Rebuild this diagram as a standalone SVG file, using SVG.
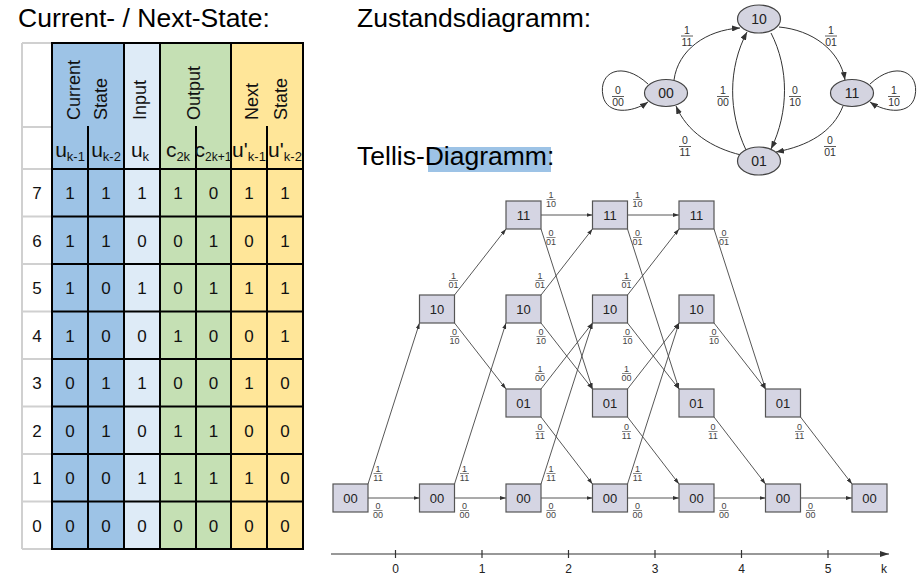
<svg xmlns="http://www.w3.org/2000/svg" width="917" height="578" viewBox="0 0 917 578">
<style>
text{font-family:"Liberation Sans",Arial,sans-serif;}
.title{font-size:26.5px;fill:#000}
.hdr{font-size:18px;fill:#111}
.cell{font-size:17px;fill:#111;text-anchor:middle}
.sub{font-size:21px;fill:#111;text-anchor:middle}
.grid{stroke:#000;stroke-width:2;fill:none}
.gray{stroke:#d0d0d0;stroke-width:2;fill:none}
.st{fill:#d4d4e0;stroke:#444;stroke-width:1.2}
.stt{font-size:14px;fill:#222;text-anchor:middle}
.sl{font-size:10.5px;fill:#333;text-anchor:middle}
.fb{stroke:#333;stroke-width:0.8}
.edge{fill:none;stroke:#333;stroke-width:1;marker-end:url(#ah)}
.tb{fill:#d5d5e3;stroke:#555;stroke-width:1.2}
.tt{font-size:13px;fill:#222;text-anchor:middle}
.tl{font-size:9px;fill:#444;text-anchor:middle}
.tfb{stroke:#555;stroke-width:0.7}
.tedge{stroke:#444;stroke-width:0.9;fill:none;marker-end:url(#ta)}
.axis{stroke:#333;stroke-width:1.2;fill:none}
.ax{font-size:12px;fill:#222;text-anchor:middle}
</style>
<defs>
<marker id="ah" markerUnits="userSpaceOnUse" markerWidth="8" markerHeight="6" refX="8" refY="3" orient="auto" viewBox="0 0 8 6"><path d="M0,0L8,3L0,6z" fill="#333"/></marker>
<marker id="ta" markerUnits="userSpaceOnUse" markerWidth="6" markerHeight="4" refX="6" refY="2" orient="auto" viewBox="0 0 6 4"><path d="M0,0L6,2L0,4z" fill="#333"/></marker>
<marker id="axa" markerUnits="userSpaceOnUse" markerWidth="9" markerHeight="6" refX="9" refY="3" orient="auto" viewBox="0 0 9 6"><path d="M0,0L9,3L0,6z" fill="#333"/></marker>
</defs>
<rect width="917" height="578" fill="#fff"/>

<!-- Titles -->
<text class="title" x="18" y="27">Current- / Next-State:</text>
<text class="title" x="357" y="27">Zustandsdiagramm:</text>
<rect x="428" y="147" width="123" height="25" fill="#9dc3e6"/>
<text class="title" x="357" y="165">Tellis-Diagramm:</text>

<!-- Table -->
<g id="table">
<rect x="52" y="43" width="72" height="506" fill="#9dc3e6"/>
<rect x="124" y="43" width="36" height="506" fill="#deebf7"/>
<rect x="160" y="43" width="71" height="506" fill="#c5e0b4"/>
<rect x="231" y="43" width="72" height="506" fill="#ffe699"/>
<path class="gray" d="M22,43V549M22,43H52M22,127H52M22,169H52M22,216.5H52M22,264H52M22,311.5H52M22,359H52M22,406.5H52M22,454H52M22,501.5H52M22,549H52"/>
<path class="grid" d="M52,43V549M124,43V549M160,43V549M231,43V549M303,43V549M88,126V549M196,126V549M267,126V549M51,43H304M51,169H304M51,216.5H304M51,264H304M51,311.5H304M51,359H304M51,406.5H304M51,454H304M51,501.5H304M51,549H304"/>
<text class="hdr" transform="translate(80,120) rotate(-90)">Current</text>
<text class="hdr" transform="translate(107,120) rotate(-90)">State</text>
<text class="hdr" transform="translate(146,120) rotate(-90)">Input</text>
<text class="hdr" transform="translate(200,120) rotate(-90)">Output</text>
<text class="hdr" transform="translate(258,120) rotate(-90)">Next</text>
<text class="hdr" transform="translate(287,120) rotate(-90)">State</text>
<text class="sub" x="70" y="157">u<tspan font-size="13" dy="4">k-1</tspan></text>
<text class="sub" x="106" y="157">u<tspan font-size="13" dy="4">k-2</tspan></text>
<text class="sub" x="140" y="157">u<tspan font-size="13" dy="4">k</tspan></text>
<text class="sub" x="178" y="157">c<tspan font-size="13" dy="4">2k</tspan></text>
<text class="sub" x="213" y="157">c<tspan font-size="12" dy="4">2k+1</tspan></text>
<text class="sub" x="249" y="157">u'<tspan font-size="13" dy="4">k-1</tspan></text>
<text class="sub" x="285" y="157">u'<tspan font-size="13" dy="4">k-2</tspan></text>
<g class="cell">
<text x="37" y="199">7</text><text x="70" y="199">1</text><text x="106" y="199">1</text><text x="142" y="199">1</text><text x="178" y="199">1</text><text x="213.5" y="199">0</text><text x="249" y="199">1</text><text x="285" y="199">1</text>
<text x="37" y="246.5">6</text><text x="70" y="246.5">1</text><text x="106" y="246.5">1</text><text x="142" y="246.5">0</text><text x="178" y="246.5">0</text><text x="213.5" y="246.5">1</text><text x="249" y="246.5">0</text><text x="285" y="246.5">1</text>
<text x="37" y="294">5</text><text x="70" y="294">1</text><text x="106" y="294">0</text><text x="142" y="294">1</text><text x="178" y="294">0</text><text x="213.5" y="294">1</text><text x="249" y="294">1</text><text x="285" y="294">1</text>
<text x="37" y="341.5">4</text><text x="70" y="341.5">1</text><text x="106" y="341.5">0</text><text x="142" y="341.5">0</text><text x="178" y="341.5">1</text><text x="213.5" y="341.5">0</text><text x="249" y="341.5">0</text><text x="285" y="341.5">1</text>
<text x="37" y="389">3</text><text x="70" y="389">0</text><text x="106" y="389">1</text><text x="142" y="389">1</text><text x="178" y="389">0</text><text x="213.5" y="389">0</text><text x="249" y="389">1</text><text x="285" y="389">0</text>
<text x="37" y="436.5">2</text><text x="70" y="436.5">0</text><text x="106" y="436.5">1</text><text x="142" y="436.5">0</text><text x="178" y="436.5">1</text><text x="213.5" y="436.5">1</text><text x="249" y="436.5">0</text><text x="285" y="436.5">0</text>
<text x="37" y="484">1</text><text x="70" y="484">0</text><text x="106" y="484">0</text><text x="142" y="484">1</text><text x="178" y="484">1</text><text x="213.5" y="484">1</text><text x="249" y="484">1</text><text x="285" y="484">0</text>
<text x="37" y="531.5">0</text><text x="70" y="531.5">0</text><text x="106" y="531.5">0</text><text x="142" y="531.5">0</text><text x="178" y="531.5">0</text><text x="213.5" y="531.5">0</text><text x="249" y="531.5">0</text><text x="285" y="531.5">0</text>
</g>
</g>

<!-- State diagram -->
<g id="state-edges">
<path class="edge" d="M674,80C678,50 706,30 740,28"/>
<path class="edge" d="M779,27C812,30 840,50 845,80"/>
<path class="edge" d="M771,33C789,68 789,112 771,149"/>
<path class="edge" d="M746,150C728,112 728,68 747,32"/>
<path class="edge" d="M741,155C712,148 687,132 676,106"/>
<path class="edge" d="M843,106C833,132 808,146 776,152"/>
<path class="edge" d="M648,84C622,60 598,72 603,96C607,115 632,113 648,102"/>
<path class="edge" d="M870,84C896,60 920,72 915,96C911,115 886,113 870,102"/>
<g class="sl">
<text x="687" y="33.5">1</text><path class="fb" d="M681,36H693"/><text x="687" y="45.5">11</text>
<text x="831" y="33.5">1</text><path class="fb" d="M825,36H837"/><text x="831" y="45.5">01</text>
<text x="618" y="94">0</text><path class="fb" d="M612,96.5H624"/><text x="618" y="106">00</text>
<text x="723" y="94">1</text><path class="fb" d="M717,96.5H729"/><text x="723" y="106">00</text>
<text x="795" y="94">0</text><path class="fb" d="M789,96.5H801"/><text x="795" y="106">10</text>
<text x="894" y="94">1</text><path class="fb" d="M888,96.5H900"/><text x="894" y="106">10</text>
<text x="685" y="144">0</text><path class="fb" d="M679,146.5H691"/><text x="685" y="156">11</text>
<text x="830" y="144">0</text><path class="fb" d="M824,146.5H836"/><text x="830" y="156">01</text>
</g>
</g>
<g id="s10"><ellipse class="st" cx="759" cy="19" rx="21.5" ry="14"/><text class="stt" x="759" y="24">10</text></g>
<g id="s00"><ellipse class="st" cx="666" cy="93" rx="21.5" ry="13.5"/><text class="stt" x="666" y="98">00</text></g>
<g id="s11"><ellipse class="st" cx="852" cy="93" rx="21.5" ry="13.5"/><text class="stt" x="852" y="98">11</text></g>
<g id="s01"><ellipse class="st" cx="759" cy="161" rx="21.5" ry="14"/><text class="stt" x="759" y="166">01</text></g>

<!-- Trellis edges -->
<g id="trellis-edges">
<path class="tedge" d="M368,498H419.5"/>
<path class="tedge" d="M368,484L419.5,323"/>
<path class="tedge" d="M454.5,498H506"/>
<path class="tedge" d="M454.5,484L506,323"/>
<path class="tedge" d="M454.5,295L506,229"/>
<path class="tedge" d="M454.5,323L506,389"/>
<path class="tedge" d="M541,498H592.5"/>
<path class="tedge" d="M541,484L592.5,323"/>
<path class="tedge" d="M541,295L592.5,229"/>
<path class="tedge" d="M541,323L592.5,389"/>
<path class="tedge" d="M541,215H592.5"/>
<path class="tedge" d="M541,229L592.5,389"/>
<path class="tedge" d="M541,389L592.5,323"/>
<path class="tedge" d="M541,417L592.5,484"/>
<path class="tedge" d="M627.5,498H679"/>
<path class="tedge" d="M627.5,484L679,323"/>
<path class="tedge" d="M627.5,295L679,229"/>
<path class="tedge" d="M627.5,323L679,389"/>
<path class="tedge" d="M627.5,215H679"/>
<path class="tedge" d="M627.5,229L679,389"/>
<path class="tedge" d="M627.5,389L679,323"/>
<path class="tedge" d="M627.5,417L679,484"/>
<path class="tedge" d="M714,498H765.5"/>
<path class="tedge" d="M714,323L765.5,389"/>
<path class="tedge" d="M714,229L765.5,389"/>
<path class="tedge" d="M714,417L765.5,484"/>
<path class="tedge" d="M800.5,498H852"/>
<path class="tedge" d="M800.5,417L852,484"/>
<g class="tl">
<g transform="translate(378,510.5)"><text y="-1.5">0</text><path class="tfb" d="M-4.5,0H4.5"/><text y="7.5">00</text></g>
<g transform="translate(378,473.5)"><text y="-1.5">1</text><path class="tfb" d="M-4.5,0H4.5"/><text y="7.5">11</text></g>
<g transform="translate(464.5,510.5)"><text y="-1.5">0</text><path class="tfb" d="M-4.5,0H4.5"/><text y="7.5">00</text></g>
<g transform="translate(464.5,473.5)"><text y="-1.5">1</text><path class="tfb" d="M-4.5,0H4.5"/><text y="7.5">11</text></g>
<g transform="translate(453.5,280.5)"><text y="-1.5">1</text><path class="tfb" d="M-4.5,0H4.5"/><text y="7.5">01</text></g>
<g transform="translate(454.5,336.5)"><text y="-1.5">0</text><path class="tfb" d="M-4.5,0H4.5"/><text y="7.5">10</text></g>
<g transform="translate(551,510.5)"><text y="-1.5">0</text><path class="tfb" d="M-4.5,0H4.5"/><text y="7.5">00</text></g>
<g transform="translate(551,473.5)"><text y="-1.5">1</text><path class="tfb" d="M-4.5,0H4.5"/><text y="7.5">11</text></g>
<g transform="translate(540,280.5)"><text y="-1.5">1</text><path class="tfb" d="M-4.5,0H4.5"/><text y="7.5">01</text></g>
<g transform="translate(541,336.5)"><text y="-1.5">0</text><path class="tfb" d="M-4.5,0H4.5"/><text y="7.5">10</text></g>
<g transform="translate(551,199.5)"><text y="-1.5">1</text><path class="tfb" d="M-4.5,0H4.5"/><text y="7.5">10</text></g>
<g transform="translate(551,237.5)"><text y="-1.5">0</text><path class="tfb" d="M-4.5,0H4.5"/><text y="7.5">01</text></g>
<g transform="translate(540,373.5)"><text y="-1.5">1</text><path class="tfb" d="M-4.5,0H4.5"/><text y="7.5">00</text></g>
<g transform="translate(540,431.5)"><text y="-1.5">0</text><path class="tfb" d="M-4.5,0H4.5"/><text y="7.5">11</text></g>
<g transform="translate(637.5,510.5)"><text y="-1.5">0</text><path class="tfb" d="M-4.5,0H4.5"/><text y="7.5">00</text></g>
<g transform="translate(637.5,473.5)"><text y="-1.5">1</text><path class="tfb" d="M-4.5,0H4.5"/><text y="7.5">11</text></g>
<g transform="translate(626.5,280.5)"><text y="-1.5">1</text><path class="tfb" d="M-4.5,0H4.5"/><text y="7.5">01</text></g>
<g transform="translate(627.5,336.5)"><text y="-1.5">0</text><path class="tfb" d="M-4.5,0H4.5"/><text y="7.5">10</text></g>
<g transform="translate(637.5,199.5)"><text y="-1.5">1</text><path class="tfb" d="M-4.5,0H4.5"/><text y="7.5">10</text></g>
<g transform="translate(637.5,237.5)"><text y="-1.5">0</text><path class="tfb" d="M-4.5,0H4.5"/><text y="7.5">01</text></g>
<g transform="translate(626.5,373.5)"><text y="-1.5">1</text><path class="tfb" d="M-4.5,0H4.5"/><text y="7.5">00</text></g>
<g transform="translate(626.5,431.5)"><text y="-1.5">0</text><path class="tfb" d="M-4.5,0H4.5"/><text y="7.5">11</text></g>
<g transform="translate(724,510.5)"><text y="-1.5">0</text><path class="tfb" d="M-4.5,0H4.5"/><text y="7.5">00</text></g>
<g transform="translate(714,336.5)"><text y="-1.5">0</text><path class="tfb" d="M-4.5,0H4.5"/><text y="7.5">10</text></g>
<g transform="translate(724,237.5)"><text y="-1.5">0</text><path class="tfb" d="M-4.5,0H4.5"/><text y="7.5">01</text></g>
<g transform="translate(713,431.5)"><text y="-1.5">0</text><path class="tfb" d="M-4.5,0H4.5"/><text y="7.5">11</text></g>
<g transform="translate(810.5,510.5)"><text y="-1.5">0</text><path class="tfb" d="M-4.5,0H4.5"/><text y="7.5">00</text></g>
<g transform="translate(799.5,431.5)"><text y="-1.5">0</text><path class="tfb" d="M-4.5,0H4.5"/><text y="7.5">11</text></g>
</g>
</g>

<!-- Trellis nodes -->
<g id="t0-00"><rect class="tb" x="333" y="484" width="35" height="28"/><text class="tt" x="350.5" y="502.5">00</text></g>
<g id="t1-10"><rect class="tb" x="419.5" y="295" width="35" height="28"/><text class="tt" x="437" y="313.5">10</text></g>
<g id="t1-00"><rect class="tb" x="419.5" y="484" width="35" height="28"/><text class="tt" x="437" y="502.5">00</text></g>
<g id="t2-11"><rect class="tb" x="506" y="201" width="35" height="28"/><text class="tt" x="523.5" y="219.5">11</text></g>
<g id="t2-10"><rect class="tb" x="506" y="295" width="35" height="28"/><text class="tt" x="523.5" y="313.5">10</text></g>
<g id="t2-01"><rect class="tb" x="506" y="389" width="35" height="28"/><text class="tt" x="523.5" y="407.5">01</text></g>
<g id="t2-00"><rect class="tb" x="506" y="484" width="35" height="28"/><text class="tt" x="523.5" y="502.5">00</text></g>
<g id="t3-11"><rect class="tb" x="592.5" y="201" width="35" height="28"/><text class="tt" x="610" y="219.5">11</text></g>
<g id="t3-10"><rect class="tb" x="592.5" y="295" width="35" height="28"/><text class="tt" x="610" y="313.5">10</text></g>
<g id="t3-01"><rect class="tb" x="592.5" y="389" width="35" height="28"/><text class="tt" x="610" y="407.5">01</text></g>
<g id="t3-00"><rect class="tb" x="592.5" y="484" width="35" height="28"/><text class="tt" x="610" y="502.5">00</text></g>
<g id="t4-11"><rect class="tb" x="679" y="201" width="35" height="28"/><text class="tt" x="696.5" y="219.5">11</text></g>
<g id="t4-10"><rect class="tb" x="679" y="295" width="35" height="28"/><text class="tt" x="696.5" y="313.5">10</text></g>
<g id="t4-01"><rect class="tb" x="679" y="389" width="35" height="28"/><text class="tt" x="696.5" y="407.5">01</text></g>
<g id="t4-00"><rect class="tb" x="679" y="484" width="35" height="28"/><text class="tt" x="696.5" y="502.5">00</text></g>
<g id="t5-01"><rect class="tb" x="765.5" y="389" width="35" height="28"/><text class="tt" x="783" y="407.5">01</text></g>
<g id="t5-00"><rect class="tb" x="765.5" y="484" width="35" height="28"/><text class="tt" x="783" y="502.5">00</text></g>
<g id="t6-00"><rect class="tb" x="852" y="484" width="35" height="28"/><text class="tt" x="869.5" y="502.5">00</text></g>

<!-- Axis -->
<g id="axis">
<path class="axis" d="M331,554H889" marker-end="url(#axa)"/>
<path class="axis" d="M395.5,550V558M482,550V558M568.5,550V558M655,550V558M741.5,550V558M828,550V558"/>
<text class="ax" x="395.5" y="573">0</text>
<text class="ax" x="482" y="573">1</text>
<text class="ax" x="568.5" y="573">2</text>
<text class="ax" x="655" y="573">3</text>
<text class="ax" x="741.5" y="573">4</text>
<text class="ax" x="828" y="573">5</text>
<text class="ax" x="884" y="573">k</text>
</g>
</svg>
